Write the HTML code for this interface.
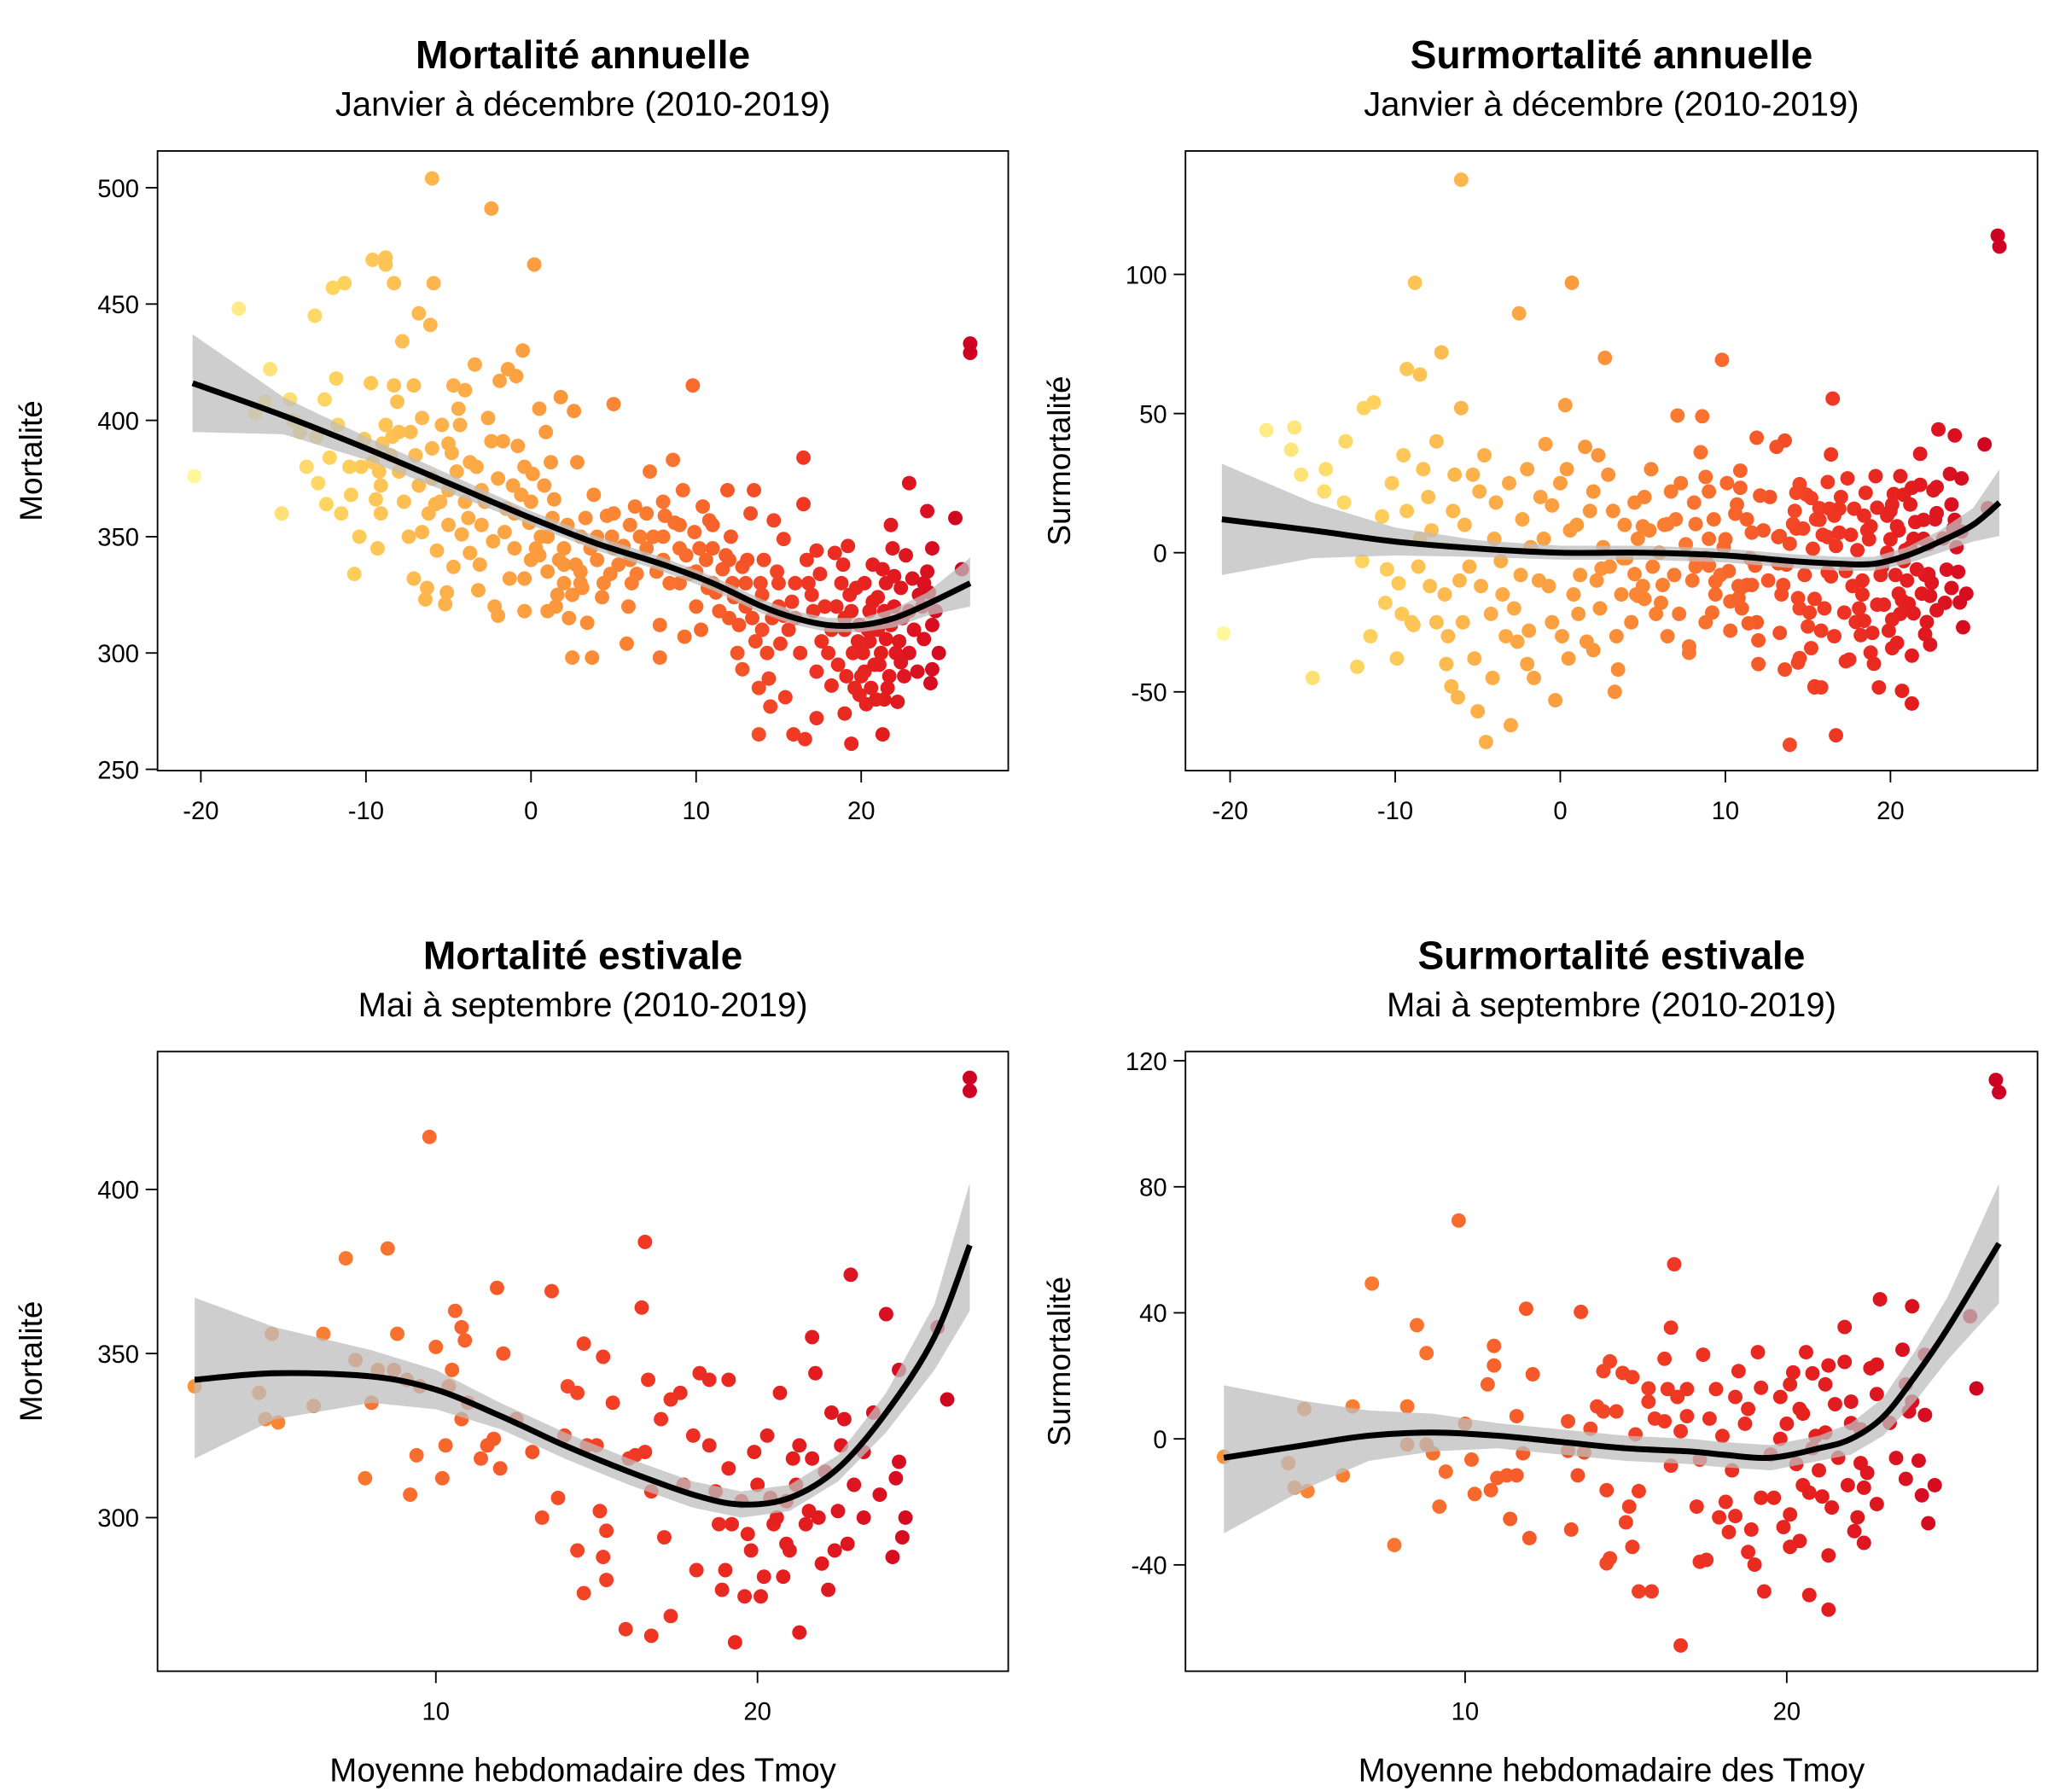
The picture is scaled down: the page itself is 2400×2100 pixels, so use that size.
<!DOCTYPE html>
<html><head><meta charset="utf-8">
<style>
html,body{margin:0;padding:0;background:#fff;}
svg{display:block;}
text{font-family:"Liberation Sans",sans-serif;fill:#000;}
</style></head>
<body>
<svg id="chart" xmlns="http://www.w3.org/2000/svg" width="2400" height="2100" viewBox="0 0 1560 1365" preserveAspectRatio="none"></svg>
<script>
// ---------- DATA ----------
const tlPoints = [[-20.4,376],[-17.7,448],[-15.8,422],[-15.1,360],[-16.1,408],[-16.7,403],[-14.6,409],[-14.4,400],[-13.1,445],[-12.5,409],[-11.8,418],[-12.0,457],[-11.3,459],[-13.0,393],[-12.9,373],[-12.4,364],[-12.2,384],[-11.7,398],[-10.7,334],[-10.9,368],[-10.4,350],[-10.3,380],[-9.6,469],[-8.8,470],[-8.8,467],[-8.3,459],[-9.7,416],[-9.4,366],[-9.3,345],[-9.1,360],[-8.8,398],[-8.4,393],[-9.2,378],[-9.1,372],[-8.3,415],[-8.1,408],[-7.8,434],[-7.1,415],[-6.8,446],[-6.1,441],[-6.0,504],[-5.9,459],[-8.0,378],[-7.4,350],[-7.1,332],[-6.6,352],[-6.4,323],[-6.3,328],[-6.6,401],[-6.0,388],[-5.8,364],[-5.7,344],[-5.4,398],[-5.2,321],[-5.1,326],[-4.7,415],[-4.4,405],[-4.3,398],[-4.8,386],[-4.2,351],[-4.7,337],[-4.0,413],[-3.7,382],[-3.4,424],[-3.1,338],[-3.7,343],[-3.2,327],[-2.6,401],[-2.4,391],[-2.4,491],[-2.2,320],[-2.0,316],[-1.7,391],[-1.6,352],[-1.3,332],[-1.9,417],[-1.4,422],[-0.9,419],[-0.8,389],[-0.5,430],[-0.4,380],[-0.4,332],[-0.4,318],[0.2,467],[0.1,377],[-0.1,356],[0,340],[0.5,405],[0.9,395],[1.0,318],[0.6,350],[1.2,382],[1.4,366],[1.6,325],[1.8,410],[2.0,338],[2.3,315],[2.5,298],[2.6,404],[2.8,382],[3.0,350],[3.1,328],[3.4,313],[3.7,298],[3.8,368],[4.3,324],[4.6,359],[5.0,407],[4.8,334],[5.6,346],[5.8,304],[5.9,320],[6.3,363],[6.4,334],[7.2,378],[7.4,350],[7.8,312],[7.8,298],[8.1,359],[8.6,383],[8.7,356],[9.2,370],[9.3,307],[9.6,334],[9.8,415],[10.3,310],[10.4,363],[10.6,340],[10.8,357],[11.2,326],[11.6,336],[11.9,370],[12.1,350],[12.3,324],[12.5,300],[12.8,337],[12.8,293],[13.3,360],[13.5,370],[13.6,305],[13.8,265],[13.8,285],[14.1,340],[14.5,277],[14.4,289],[14.7,357],[15.1,304],[15.3,349],[15.4,281],[15.3,316],[15.9,265],[16.5,384],[16.5,364],[16.6,263],[16.7,340],[17.3,344],[17.3,272],[17.3,292],[17.5,334],[18.2,286],[18.4,343],[19.2,346],[19.4,261],[19.0,274],[19.5,300],[19.9,312],[20.2,292],[20.3,278],[20.7,338],[21.0,324],[21.3,265],[21.4,280],[21.5,306],[21.8,355],[21.9,345],[22.2,279],[22.4,296],[22.7,342],[22.9,373],[22.9,300],[23.1,332],[23.8,306],[24.0,361],[24.2,287],[24.3,345],[24.3,293],[24.5,318],[24.7,300],[25.7,358],[26.1,336],[26.6,433],[26.6,429],[24.3,312],
[18.5,320],[19,315],[19.8,305],[20.5,318],[21,310],[21.2,300],[20,290],[19.6,285],[22,320],[22.5,315],[21.5,330],[20.8,295],[18.8,330],[19.3,325],[20.2,330],[21.7,290],[22.3,305],[23.5,325],[23.8,330],[24,335],[20.6,285],[19,310],[17.8,320],[18,300],[16,330],[15,320],[14,325],[13,330],[12,340],[11,345],[10,335],[9,345],[8,340],[7,345],[6,355],[5,345],[4,340],[3,335],[2,345],[1,350],[0,365],[-1,360],[-2,375],[-3,370],[-4,365],[-5,370],[-6,375],[-7,385],[-8,395],[-9,390],[3,330],[2,330],[1,335],[4,350],[5,360],[6,340],[8,350],[9,330],[10,320],[11,330],[12,315],[13,320],[14,310],[15,330],[16,315],[17,325],[-5,355],[-3,355],[-1,345],[0.5,342],[1.5,320],[2.5,325],
[18.2,310],[18.6,295],[19.1,290],[19.4,318],[19.7,328],[20.1,300],[20.4,310],[20.7,322],[20.9,280],[21.1,295],[21.4,318],[21.6,285],[21.8,312],[22.1,300],[22.4,328],[22.6,290],[22.9,318],[23.2,310],[23.4,292],[23.7,320],[24.1,326],[19.9,282],[20.5,305],[21.3,336],[22.0,333],[18.9,338],[17.6,305],[17.1,318],[16.8,330],[16.3,300],[15.8,322],[15.6,310],[14.9,335],[14.6,315],[14.3,300],[13.9,330],[13.4,315],[13.1,340],[12.6,312],[12.2,330],[11.8,342],[11.4,318],[11.0,355],[10.7,328],[10.2,345],[9.9,352],[9.4,342],[9.0,355],[8.4,330],[8.0,365],[7.6,335],[7.0,360],[6.6,350],[6.1,330],[5.3,338],[4.9,350],[4.4,330],[3.6,345],[3.3,358],[2.7,338],[2.2,355],[1.7,340],[1.3,358],[0.8,372],[0.3,345],[-0.6,368],[-1.1,372],[-1.5,362],[-2.3,348],[-2.8,365],[-3.3,380],[-3.8,358],[-4.5,378],[-5.0,390],[-5.5,365],[-6.2,360],[-6.8,372],[-7.3,395],[-7.7,365],[-8.5,385],[-9.6,382],[-10.1,392],[-11.0,380],[-11.5,360],[-13.6,380],[-14.0,395]];

const blPoints = [[2.5,340],[4.5,338],[4.7,330],[4.9,356],[5.1,329],[6.2,334],[6.5,356],[7.2,379],[7.8,312],[8.2,345],[8.5,382],[8.7,345],[8.8,356],[9.1,342],[9.2,307],[9.4,319],[9.8,416],[10,352],[10.2,312],[10.3,322],[10.4,340],[10.6,363],[10.8,358],[10.9,354],[10.8,330],[11.4,318],[11.6,322],[11.8,324],[11.9,370],[12,315],[12.1,350],[13.3,300],[13.6,369],[13.8,306],[14.1,340],[14.4,338],[14.4,290],[14.6,277],[14.6,353],[14.7,322],[15,322],[15.1,302],[15.2,288],[15.2,349],[15.3,296],[15.3,281],[15.9,266],[16,318],[16.2,319],[16.4,364],[16.5,384],[16.7,264],[16.6,342],[16.7,308],[17.1,294],[17.3,270],[17.3,336],[17.6,338],[17.7,310],[18.1,284],[18.2,344],[18.5,342],[18.5,322],[18.7,308],[18.9,278],[19,284],[19.1,342],[19.2,298],[19.3,262],[19.6,276],[19.8,290],[19.9,320],[20.1,276],[20.2,282],[20.4,306],[20.5,298],[20.7,338],[20.8,282],[20.9,292],[21.1,318],[21.3,265],[21.3,322],[21.5,298],[21.6,302],[21.7,355],[21.8,344],[22,286],[22.1,314],[22.2,278],[22.3,332],[22.5,302],[22.7,330],[22.8,292],[22.9,374],[23.3,320],[23.6,332],[23.8,307],[24,362],[24.2,288],[24.3,312],[24.4,317],[24.4,345],[24.5,294],[24.6,300],[25.6,358],[25.9,336],[26.6,434],[26.6,430],
[19.5,305],[20,310],[20.6,300],[21,290],[21.2,310],[21.9,300],[22.4,290],[23,310],[20.3,325],[19.1,315],[18,325],[17,330],[16.5,320],[15.5,335],[14,325],[13,320],[12.5,330],[11,335],[10.5,345],[9.5,340],[8,335],[7.5,348],[18.8,298],[21.7,318],[22.6,322],[23.3,300],[20.9,305],[19.7,295]];

const brPoints = [[2.5,-5.7],[4.5,-7.7],[4.7,-15.5],[5.0,9.5],[5.1,-16.6],[6.2,-11.6],[6.5,10.3],[7.1,49.3],[7.8,-33.7],[8.2,10.3],[8.5,36.1],[8.8,27.2],[8.2,-1.8],[8.8,-1.8],[9.0,-4.6],[9.2,-21.5],[9.4,-10.4],[9.8,69.3],[10.0,4.8],[10.2,-6.6],[10.3,-17.5],[10.7,17.3],[10.8,-16.3],[10.9,29.5],[10.9,23.3],[11.0,-12.4],[11.3,-11.6],[11.4,-25.4],[11.6,7.2],[11.6,-11.6],[11.8,-4.6],[11.9,41.3],[12.0,-31.5],[12.1,20.5],[13.2,5.6],[13.2,-3.8],[13.3,-28.8],[13.5,-11.6],[13.6,40.3],[13.7,-4.3],[13.9,3.2],[14.1,10.3],[14.3,21.5],[14.3,8.7],[14.5,24.6],[14.4,-16.3],[14.4,-39.5],[14.5,-37.9],[14.7,8.7],[14.9,20.9],[15.0,-26.5],[15.1,-21.5],[15.2,19.6],[15.2,-34.3],[15.3,1.4],[15.4,-16.6],[15.4,-48.4],[15.7,16.0],[15.7,11.8],[15.9,6.4],[15.8,-48.4],[16.2,25.4],[16.2,5.6],[16.3,15.8],[16.4,35.3],[16.5,55.4],[16.4,-8.5],[16.6,13.3],[16.7,2.4],[16.7,-65.6],[16.9,15.8],[16.9,7.2],[17.2,-21.5],[17.3,-39],[17.5,-38.4],[17.3,-6.6],[17.4,26.7],[17.6,6.4],[17.8,15.8],[17.9,-24.9],[18.0,0.9],[18.1,-20],[18.2,-29.6],[18.3,-10],[18.4,-24.5],[18.5,21.5],[18.4,13.3],[18.7,4.8],[18.8,9.5],[18.8,-35.9],[18.9,-28.8],[19.0,-39.9],[19.1,27.5],[19.2,16.2],[19.2,-18.7],[19.3,-48.4],[19.6,-18.7],[19.8,13.3],[19.9,-28],[20.0,4.8],[20.1,-24],[20.1,17.3],[20.1,-34.3],[20.2,21.1],[20.4,-32.4],[20.4,9.5],[20.5,-14.7],[20.6,27.5],[20.7,-49.6],[20.7,-17.1],[20.8,20.8],[20.9,0.9],[21.1,-18.3],[21.2,17.3],[21.3,23.3],[21.3,-37],[21.3,-54.2],[21.4,-21.8],[21.5,11],[21.8,35.5],[21.8,24.4],[21.9,-14.7],[22.0,11.8],[22.1,-29.3],[22.2,-24.9],[22.3,-7.7],[22.4,-15.5],[22.4,-33],[22.5,-10.8],[22.6,22.4],[22.8,23.6],[22.8,14.2],[22.9,44.3],[22.8,-20.7],[23.2,5.1],[23.4,-6.1],[23.6,28.3],[23.7,17.3],[23.7,-12.7],[23.8,8.7],[23.9,11.8],[23.9,42.1],[24.1,-6.9],[24.2,-17.9],[24.3,26.7],[24.3,7.6],[24.4,-26.8],[24.6,-14.7],[25.7,38.9],[25.9,16.0],[26.5,113.9],[26.6,110],
[19.5,-5],[20.3,-8],[20.8,-3],[21.2,2],[21.6,-6],[22,5],[20.5,8],[21,-10],[19.8,0],[22.3,3]];

const trExtraPoints = [[-20.4,-29],[-17.8,44],[-16.1,45],[-16.3,37],[-15.7,28],[-15,-45],[-14.2,30],[-14.3,22],[-13,40],[-13.1,18],[-12.3,-41],[-12,-3],[-11.9,52],[-11.3,54],[-10.5,-6],[-10.8,13],[-10.6,-18],[-9.8,-11],[-9.6,-22],[-9.3,66],[-9,-25],[-9.5,35],[-9.3,15],[-8.8,97],[-8.5,64],[-8.9,-26],[-8.5,5],[-8.3,30],[-8,20],[-7.9,-12],[-7.5,-25],[-7.2,72],[-7.5,40],[-6.9,-40],[-6.8,-30],[-6.4,28],[-6.6,-48],[-6.2,-52],[-6,134],[-6,52],[-5.8,10],[-5.5,-5],[-5.2,-38],[-5,-57],[-4.5,-68],[-4.6,35],[-4.9,22],[-4.2,-22],[-4,5],[-3.9,18],[-3.5,-15],[-3.3,-30],[-3,-62],[-2.8,-20],[-2.5,86],[-2.6,-32],[-2.3,12],[-2,30],[-1.6,-45],[-1.8,2],[-1.3,-10],[-0.9,39],[-0.5,17],[-0.5,-25],[-0.3,-53],[0,25],[0.3,53],[0.5,-38],[0.7,97],[0.8,-15],[0.4,30],[1.2,-8],[1.5,38],[1.6,-32],[2,-35],[2,22],[2.3,35],[2.6,2],[2.7,70],[2.4,-20],[3,-5],[3.2,15],[3.5,-42],[3.7,-15],[4,-2],[4.3,-25],[4.7,5],[5,-12],[5.4,8],[5.8,-22],[6.3,10],[6.5,-30],[6.9,-8],[7.3,25],[7.8,-36],[8.2,-5],[8.6,49],[9,22],[9.4,-15],[9.9,2],[10.3,-28],[10.6,14],[11,-20],[11.5,-2],[12,-40],[12.3,8],[12.6,-10],[13.1,38],[13.6,-42],[13.9,-69],[13.3,6],[14.5,-20],[15.4,-48],[15.8,-28],[16.2,-7],[5.5,30],[4.5,18],[3.8,-2],[1,10],[-1,5],[6,0],[7,12],[8,-10],[9,5],
[-11.5,-30],[-10.2,25],[-9.9,-38],[-8.6,-5],[-7.8,8],[-7.0,-15],[-6.5,15],[-5.9,-25],[-5.3,28],[-4.8,-12],[-4.1,-45],[-3.6,-3],[-3.1,25],[-2.4,-8],[-1.9,-28],[-1.2,20],[-0.7,-12],[0.1,-30],[0.6,8],[1.1,-22],[1.8,15],[2.2,-10],[2.9,28],[3.4,-30],[3.9,10],[4.6,-15],[5.1,20],[5.6,-5],[6.1,-18],[6.7,22],[7.2,-22],[7.6,3],[8.1,18],[8.8,-25],[9.3,12],[9.7,-8],[10.1,25],[10.8,-12],[11.3,12],[11.9,-25],[12.7,20],[13.4,-15],[14.2,15],[14.8,-8],[15.5,12],[16.0,-20],[16.6,-30],[17.0,20],[17.7,-12],[18.3,-15],[18.6,8],[19.4,-8],[20.0,15],[20.6,-22],[21.4,5],[22.1,-8],[22.7,12],[23.3,-18],[24.0,2],[-2.0,-40],[-6.1,-10],[3.3,-50]];

// smooth fits
const tlFitX  = [-20.5,-15,-10,-5,0,4,8,11,14,16,18,20,22,24,26.6];
const tlFitY  = [416,402,388,373,358,347,338,330,320,315,312,312,315,321,330];
const tlFitLo = [395,394,383,369,355,344,335,327,317,312,309,309,311,316,320];
const tlFitHi = [437,410,393,377,361,350,341,333,323,318,315,315,319,326,341];

const trFitX  = [-20.5,-15,-10,-5,0,5,10,14,17,19,21,23,25,26.6];
const trFitY  = [12,8,4,1.5,0,0,-1,-3,-4,-4,-1,4,10,18];
const trFitLo = [-8,-2,-1,-1.5,-2.5,-2.5,-3.5,-5.5,-6.5,-6.5,-4,0,4,6];
const trFitHi = [32,18,9,4.5,2.5,2.5,1.5,-0.5,-1.5,-1.5,2,8,16,30];

const blFitX  = [2.5,5,8,10,12,14,16,18,19.5,21,22.5,24,25.5,26.6];
const blFitY  = [342,344,343,339,331,322,314,307,304,306,315,332,355,383];
const blFitLo = [318,330,335,333,327,318,310,303,300,302,311,326,345,363];
const blFitHi = [367,358,351,345,335,326,318,311,308,310,319,338,365,402];

const brFitX  = [2.5,5,7,9,11,13,15,17,18,19.5,21,22,23,24,25,26.6];
const brFitY  = [-6,-2,1,2,1,-1,-3,-4,-5,-6,-3,0,7,20,35,62];
const brFitLo = [-30,-16,-7,-4,-3,-5,-7,-8,-9,-10,-7,-5,1,12,25,43];
const brFitHi = [17,12,9,8,5,3,1,0,-1,-2,1,5,13,28,45,81];

const topXTicks = [-20,-10,0,10,20];
const botXTicks = [10,20];
const tlYTicks = [250,300,350,400,450,500];
const trYTicks = [-50,0,50,100];
const blYTicks = [300,350,400];
const brYTicks = [-40,0,40,80,120];

// ---------- RENDER ----------
const svg = document.getElementById('chart');
const NS = 'http://www.w3.org/2000/svg';
function mk(tag, attrs, parent){
  const e = document.createElementNS(NS, tag);
  for (const k in attrs) e.setAttribute(k, attrs[k]);
  (parent||svg).appendChild(e);
  return e;
}
const colStops = [[-21,[255,250,160]],[-12,[254,211,94]],[-5,[253,176,74]],[2,[251,150,59]],[10,[248,106,44]],[16,[240,58,36]],[21,[228,31,31]],[27,[204,0,34]]];
function colorFor(t){
  if (t<=colStops[0][0]) return 'rgb('+colStops[0][1]+')';
  for (let i=1;i<colStops.length;i++){
    if (t<=colStops[i][0]){
      const a=colStops[i-1], b=colStops[i], f=(t-a[0])/(b[0]-a[0]);
      return 'rgb('+a[1].map((v,j)=>Math.round(v+(b[1][j]-v)*f)).join(',')+')';
    }
  }
  return 'rgb('+colStops[colStops.length-1][1]+')';
}
function lin(d0,d1,r0,r1){ return v => r0 + (v-d0)*(r1-r0)/(d1-d0); }

function panel(cfg){
  const g = mk('g', {});
  
  
  const xs = cfg.x, ys = cfg.y;
  const t1 = mk('text', {x:(cfg.box[0]+cfg.box[2])/2, y:cfg.titleY, 'text-anchor':'middle', 'font-size':30, 'font-weight':'bold'}, g);
  t1.textContent = cfg.title;
  
  
  const t2 = mk('text', {x:(cfg.box[0]+cfg.box[2])/2, y:cfg.titleY+36, 'text-anchor':'middle', 'font-size':26}, g);
  t2.textContent = cfg.subtitle;
  
  
  const pg = mk('g', {}, g);
  
  
  cfg.points.forEach(p => {
    const c = mk('circle', {cx:xs(p[0]).toFixed(1), cy:ys(p[1]).toFixed(1), r:5.5, fill:colorFor(p[0])}, pg);
    
    
  });
  let d = '';
  cfg.fx.forEach((v,i)=>{ d += (i?'L':'M')+xs(v).toFixed(1)+','+ys(cfg.fhi[i]).toFixed(1); });
  for (let i=cfg.fx.length-1;i>=0;i--) d += 'L'+xs(cfg.fx[i]).toFixed(1)+','+ys(cfg.flo[i]).toFixed(1);
  const band = mk('path', {d:d+'Z', fill:'#bdbdbd', 'fill-opacity':0.75, stroke:'none'}, g);
  
  
  const P = cfg.fx.map((v,i)=>[xs(v), ys(cfg.fy[i])]);
  let cd = 'M'+P[0][0]+','+P[0][1];
  for (let i=0;i<P.length-1;i++){
    const p0=P[Math.max(i-1,0)], p1=P[i], p2=P[i+1], p3=P[Math.min(i+2,P.length-1)];
    const c1=[p1[0]+(p2[0]-p0[0])/6, p1[1]+(p2[1]-p0[1])/6];
    const c2=[p2[0]-(p3[0]-p1[0])/6, p2[1]-(p3[1]-p1[1])/6];
    cd += 'C'+c1.join(',')+' '+c2.join(',')+' '+p2.join(',');
  }
  const line = mk('path', {d:cd, fill:'none', stroke:'#000', 'stroke-width':4.5, 'stroke-linecap':'butt'}, g);
  
  
  const b = cfg.box;
  const rect = mk('rect', {x:b[0], y:b[1], width:b[2]-b[0], height:b[3]-b[1], fill:'none', stroke:'#000', 'stroke-width':1.2}, g);
  
  
  cfg.xt.forEach(v => {
    const px = xs(v);
    const tk = mk('line', {x1:px, x2:px, y1:b[3], y2:b[3]+9, stroke:'#000', 'stroke-width':1.2}, g);
    
    
    const tl = mk('text', {x:px, y:b[3]+37, 'text-anchor':'middle', 'font-size':19}, g);
    tl.textContent = String(v);
    
    
  });
  cfg.yt.forEach(v => {
    const py = ys(v);
    const tk = mk('line', {x1:b[0]-9, x2:b[0], y1:py, y2:py, stroke:'#000', 'stroke-width':1.2}, g);
    
    
    const tl = mk('text', {x:b[0]-14, y:py+7, 'text-anchor':'end', 'font-size':19}, g);
    tl.textContent = String(v);
    
    
  });
  const cy = (b[1]+b[3])/2;
  const yt = mk('text', {x:0, y:0, 'text-anchor':'middle', 'font-size':24, transform:'translate('+(b[0]-88)+','+cy+') rotate(-90)'}, g);
  yt.textContent = cfg.ytitle;
  
  
  if (cfg.xtitle){
    const xt = mk('text', {x:(b[0]+b[2])/2, y:1357, 'text-anchor':'middle', 'font-size':25}, g);
    xt.textContent = cfg.xtitle;
    
    
  }
}

panel({name:'panel-mortalite-annuelle', title:'Mortalité annuelle', subtitle:'Janvier à décembre (2010-2019)', titleY:52,
  box:[120,115,768,587], x:lin(-20,20,153,656), y:lin(500,250,143,586), xt:topXTicks, yt:tlYTicks,
  points:tlPoints, fx:tlFitX, fy:tlFitY, flo:tlFitLo, fhi:tlFitHi, ytitle:'Mortalité'});
panel({name:'panel-surmortalite-annuelle', title:'Surmortalité annuelle', subtitle:'Janvier à décembre (2010-2019)', titleY:52,
  box:[903,115,1552,587], x:lin(-20,20,937,1440), y:lin(100,-50,209,527), xt:topXTicks, yt:trYTicks,
  points:trExtraPoints.concat(brPoints), fx:trFitX, fy:trFitY, flo:trFitLo, fhi:trFitHi, ytitle:'Surmortalité'});
panel({name:'panel-mortalite-estivale', title:'Mortalité estivale', subtitle:'Mai à septembre (2010-2019)', titleY:738,
  box:[120,801,768,1273], x:lin(10,20,332,577), y:lin(400,300,906,1156), xt:botXTicks, yt:blYTicks,
  points:blPoints, fx:blFitX, fy:blFitY, flo:blFitLo, fhi:blFitHi, ytitle:'Mortalité', xtitle:'Moyenne hebdomadaire des Tmoy'});
panel({name:'panel-surmortalite-estivale', title:'Surmortalité estivale', subtitle:'Mai à septembre (2010-2019)', titleY:738,
  box:[903,801,1552,1273], x:lin(10,20,1116,1361), y:lin(120,-40,808,1192), xt:botXTicks, yt:brYTicks,
  points:brPoints, fx:brFitX, fy:brFitY, flo:brFitLo, fhi:brFitHi, ytitle:'Surmortalité', xtitle:'Moyenne hebdomadaire des Tmoy'});
</script>
</body></html>
